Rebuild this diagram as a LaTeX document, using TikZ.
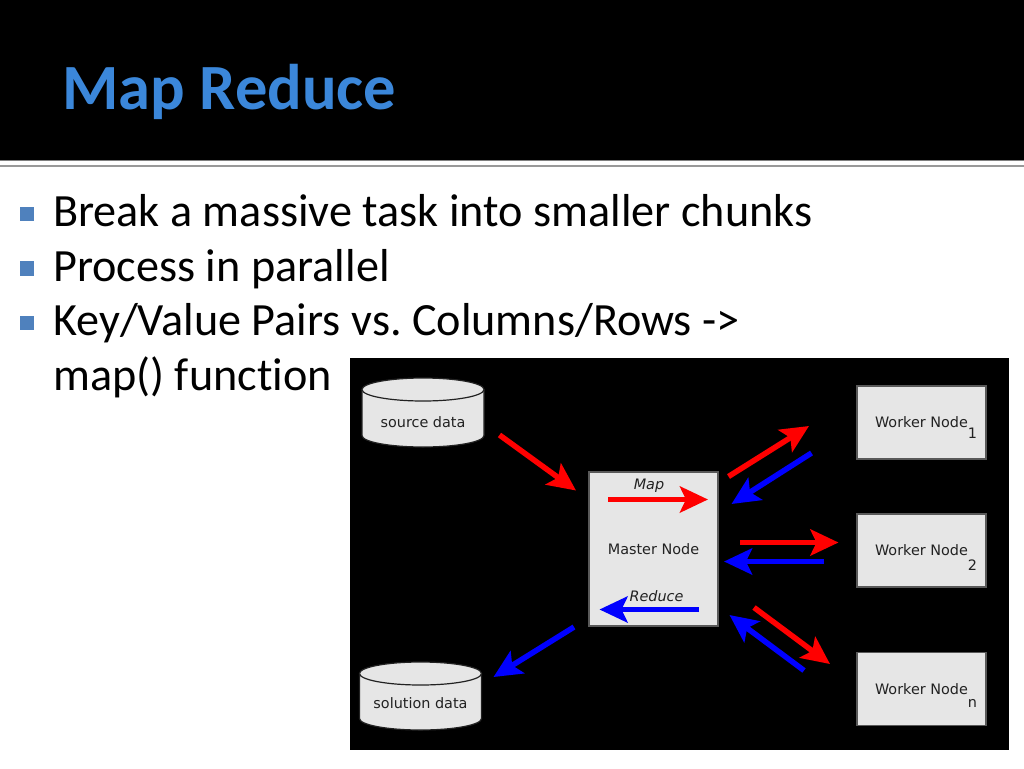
\documentclass[tikz,border=0pt]{standalone}
\usepackage{fontspec}
\setmainfont{Carlito}[Ligatures=NoCommon]
\newfontfamily\diagfont{DejaVu Sans}
\usetikzlibrary{arrows.meta}

\definecolor{titleblue}{RGB}{59,135,218}
\definecolor{bulletblue}{RGB}{79,129,189}
\definecolor{boxgray}{RGB}{230,230,230}
\definecolor{inkgray}{RGB}{34,34,34}

\tikzset{
	bulletsq/.style={fill=bulletblue,minimum size=14.5pt,inner sep=0pt},
	bullettext/.style={anchor=base west,inner sep=0pt,font=\fontsize{46.2}{54}\selectfont},
	diagtext/.style={text=inkgray,inner sep=0pt,font=\diagfont\fontsize{14.4}{16}\selectfont},
	box/.style={draw=inkgray!75,fill=boxgray,line width=1.2pt,diagtext},
	cyl/.style={draw=inkgray,fill=boxgray,line width=1.2pt},
	tip/.style={-{Stealth[length=28pt,width=26pt,inset=6pt]}},
	redarrow/.style={draw=red,line width=5.5pt,tip},
	bluearrow/.style={draw=blue,line width=5.5pt,tip}
}

\begin{document}
\frenchspacing
\begin{tikzpicture}[x=1pt,y=-1pt]
	\useasboundingbox (0,0) rectangle (1024,768);
	
	% title band
	\fill[black] (0,0) rectangle (1024,160);
	\draw[gray,line width=1pt] (0,160.5) -- (1024,160.5);
	\draw[gray!80,line width=2pt] (0,166) -- (1024,166);
	\node[anchor=base west,inner sep=0pt,text=titleblue,font=\bfseries\fontsize{64.5}{72}\selectfont] (title) at (62,109) {Map Reduce};
	
	% bullets
	\node[bulletsq] (sq1) at (27,214) {};
	\node[bulletsq] (sq2) at (27,268.5) {};
	\node[bulletsq] (sq3) at (27,323) {};
	\node[bullettext] (t1) at (53,226.5) {Break a massive task into smaller chunks};
	\node[bullettext] (t2) at (53,281) {Process in parallel};
	\node[bullettext] (t3) at (53,335.5) {Key/Value Pairs vs.\ Columns/Rows ->};
	\node[bullettext] (t4) at (53,390) {map() function};
	
	% diagram
	\fill[black] (350,358) rectangle (1009,750);
	
	\foreach \cx/\ty/\h in {423/378/69, 420.5/662/68}{
		\filldraw[cyl] (\cx-61,\ty+11.5) -- (\cx-61,\ty+\h-11.5) arc[start angle=180,end angle=0,x radius=61,y radius=11.5] -- (\cx+61,\ty+11.5) arc[start angle=0,end angle=-180,x radius=61,y radius=11.5] -- cycle;
		\draw[cyl] (\cx-61,\ty+11.5) arc[start angle=180,end angle=0,x radius=61,y radius=11.5];
	}
	\node[diagtext] (src) at (423,422.5) {source data};
	\node[diagtext] (sol) at (420.5,703) {solution data};
	
	\node[box,minimum width=129pt,minimum height=154pt] (master) at (653.5,549) {Master Node};
	\node[diagtext,font=\diagfont\itshape\fontsize{14.4}{16}\selectfont] (maplbl) at (649,486) {Map};
	\node[diagtext,font=\diagfont\itshape\fontsize{14.4}{16}\selectfont] (redlbl) at (656.5,596) {Reduce};
	
	\node[box,minimum width=129pt,minimum height=73pt] (w1) at (921.5,422.5) {Worker Node};
	\node[box,minimum width=129pt,minimum height=73pt] (w2) at (921.5,550.5) {Worker Node};
	\node[box,minimum width=129pt,minimum height=73pt] (wn) at (921.5,689) {Worker Node};
	\node[diagtext] (w1i) at (972.5,433) {1};
	\node[diagtext] (w2i) at (972.5,565) {2};
	\node[diagtext] (wni) at (972.5,703) {n};
	
	% arrow ends
	\coordinate (mapa) at (608,499.5);  \coordinate (mapb) at (708,499.5);
	\coordinate (reda) at (699,609.5);  \coordinate (redb) at (599.5,609.5);
	\coordinate (srca) at (499.5,435);  \coordinate (srcb) at (576,490.5);
	\coordinate (sola) at (574,627);    \coordinate (solb) at (493.5,677);
	\coordinate (w1a) at (728.5,476.5); \coordinate (w1b) at (809,426);
	\coordinate (w1c) at (811.5,453);   \coordinate (w1d) at (731.5,504);
	\coordinate (w2a) at (740,542.5);   \coordinate (w2b) at (838.5,542.5);
	\coordinate (w2c) at (824,561.5);   \coordinate (w2d) at (724,561.5);
	\coordinate (wna) at (754,607.5);   \coordinate (wnb) at (830,664);
	\coordinate (wnc) at (804,670.5);   \coordinate (wnd) at (729.5,615);
	
	\draw[redarrow] (mapa) -- (mapb);
	\draw[bluearrow] (reda) -- (redb);
	\draw[redarrow] (srca) -- (srcb);
	\draw[bluearrow] (sola) -- (solb);
	\draw[redarrow] (w1a) -- (w1b);
	\draw[bluearrow] (w1c) -- (w1d);
	\draw[redarrow] (w2a) -- (w2b);
	\draw[bluearrow] (w2c) -- (w2d);
	\draw[redarrow] (wna) -- (wnb);
	\draw[bluearrow] (wnc) -- (wnd);
\end{tikzpicture}
\end{document}
